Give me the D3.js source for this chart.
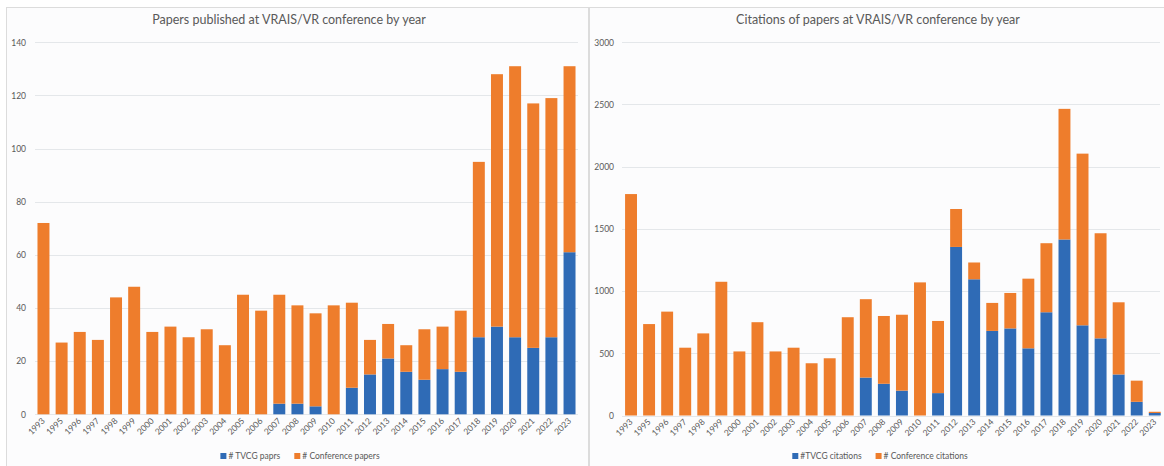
<!DOCTYPE html>
<html><head><meta charset="utf-8">
<script src="https://cdn.jsdelivr.net/npm/d3@7"></script>
<style>
body{margin:0;background:#fff;}
svg{display:block;font-family:Lato,"Open Sans",sans-serif;}
</style></head>
<body><svg id="c" width="1164" height="466"></svg>
<script>
const years = ["1993","1995","1996","1997","1998","1999","2000","2001","2002","2003","2004","2005","2006","2007","2008","2009","2010","2011","2012","2013","2014","2015","2016","2017","2018","2019","2020","2021","2022","2023"];
// Papers
const tvcgPapers = [0,0,0,0,0,0,0,0,0,0,0,0,0,4,4,3,0,10,15,21,16,13,17,16,29,33,29,25,29,61];
const confPapers = [72,27,31,28,44,48,31,33,29,32,26,45,39,41,37,35,41,32,13,13,10,19,16,23,66,95,102,92,90,70];
const papersTicks = [0,20,40,60,80,100,120,140];
// Citations
const tvcgCitations = [0,0,0,0,0,0,0,0,0,0,0,0,0,305,255,200,0,180,1355,1095,680,700,540,830,1415,725,620,330,110,20];
const confCitations = [1780,735,835,545,660,1075,515,750,515,545,420,460,790,630,545,610,1070,580,305,135,225,285,560,555,1050,1380,845,580,170,10];
const citationTicks = [0,500,1000,1500,2000,2500,3000];

const BLUE = "#2f6bb6", ORANGE = "#ee7d2c", TXT = "#595959", GRID = "#e4e7ea";
const svg = d3.select("#c");

// panels
svg.append("rect").attr("x",6.5).attr("y",7.5).attr("width",582).attr("height",470)
  .attr("fill","#fcfcfd").attr("stroke","#dcdcdc");
svg.append("rect").attr("x",589.5).attr("y",7.5).attr("width",580).attr("height",470)
  .attr("fill","#fcfcfd").attr("stroke","#dcdcdc");

function chart(cfg){
  const x = d3.scaleBand().domain(years).range(cfg.xr).paddingInner(0.34).paddingOuter(0.17);
  const y = d3.scaleLinear().domain([0, cfg.max]).range(cfg.yr);
  const g = svg.append("g");
  // grid
  g.selectAll(".grid").data(cfg.ticks).join("line")
    .attr("x1",cfg.gx[0]).attr("x2",cfg.gx[1])
    .attr("y1",d=>Math.round(y(d))+0.5).attr("y2",d=>Math.round(y(d))+0.5)
    .attr("stroke",GRID).attr("stroke-width",1);
  // y axis labels
  const ya = d3.axisLeft(y).tickValues(cfg.ticks).tickFormat(d3.format("d")).tickSize(0).tickPadding(0);
  const yg = g.append("g").attr("transform",`translate(${cfg.ylabX},0)`).call(ya);
  yg.select(".domain").remove();
  yg.selectAll("text").attr("fill",TXT).attr("font-size",8.5).attr("font-family","Lato,'Open Sans',sans-serif");
  // stacks
  const data = years.map((yr,i)=>({yr, a:cfg.a[i], b:cfg.b[i]}));
  const stack = d3.stack().keys(["a","b"])(data);
  const colors = [BLUE, ORANGE];
  stack.forEach((s,k)=>{
    g.append("g").selectAll("rect").data(s).join("rect")
      .attr("x",d=>x(d.data.yr)).attr("width",x.bandwidth())
      .attr("y",d=>y(d[1])).attr("height",d=>Math.max(0,y(d[0])-y(d[1])))
      .attr("fill",colors[k]);
  });
  // x axis labels
  const xa = d3.axisBottom(x).tickSize(0).tickPadding(0);
  const xg = g.append("g").attr("transform",`translate(0,${cfg.yr[0]+5})`).call(xa);
  xg.select(".domain").remove();
  xg.selectAll("text").attr("fill",TXT).attr("font-size",8.5)
    .attr("font-family","Lato,'Open Sans',sans-serif")
    .attr("text-anchor","end").attr("dy","0.35em")
    .attr("transform","rotate(-45)");
  // title
  g.append("text").attr("x",cfg.tx).attr("y",24).attr("text-anchor","middle")
    .attr("fill",TXT).attr("font-size",12.5).text(cfg.title);
  // legend
  const lg = g.append("g");
  let cx = 0;
  cfg.legend.forEach((t,i)=>{
    const it = lg.append("g");
    it.append("rect").attr("x",0).attr("y",-5).attr("width",6).attr("height",6).attr("fill",colors[i]);
    const tx = it.append("text").attr("x",8).attr("y",1).attr("fill",TXT).attr("font-size",8.5).text(t);
    const w = 8 + tx.node().getComputedTextLength();
    it.attr("transform",`translate(${cx},0)`);
    cx += w + 14;
  });
  const total = cx - 14;
  lg.attr("transform",`translate(${cfg.lx - total/2},458)`);
}

chart({xr:[34.4,578.6], yr:[414.3,42.3], max:140, ticks:papersTicks, gx:[35,578], ylabX:26,
  a:tvcgPapers, b:confPapers, title:"Papers published at VRAIS/VR conference by year", tx:289,
  legend:["# TVCG paprs","# Conference papers"], lx:300});
chart({xr:[622,1163.8], yr:[415.5,42.3], max:3000, ticks:citationTicks, gx:[622,1160], ylabX:614,
  a:tvcgCitations, b:confCitations, title:"Citations of papers at VRAIS/VR conference by year", tx:878,
  legend:["#TVCG citations","# Conference citations"], lx:880});
</script></body></html>
